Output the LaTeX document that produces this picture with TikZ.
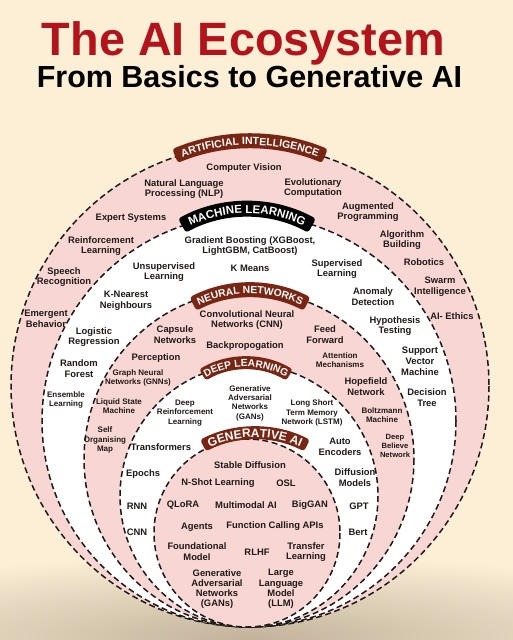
\documentclass[tikz,border=0pt]{standalone}
\usepackage{fontspec}
\setmainfont{Liberation Sans}
\usepackage{tikz}
\usetikzlibrary{calc, decorations.text}
\definecolor{Cream}   {HTML}{FCEFD6}
\definecolor{TitleRed}{HTML}{B3141B}
\definecolor{RingPink}{HTML}{F8D6D3}
\definecolor{Rust}    {HTML}{782613}
\definecolor{Ink}     {HTML}{1E1A18}
\definecolor{Shadow}  {HTML}{C3B39C}

\begin{document}
\begin{tikzpicture}[x=1pt, y=-1pt,
  ring/.style={draw=Ink, line width=1.5pt, dash pattern=on 6pt off 3.5pt},
  lbl/.style={font=\bfseries\fontsize{9.4}{10.8}\selectfont, align=center,
              text=Ink, inner sep=0pt},
  sml/.style={lbl, font=\bfseries\fontsize{8}{9.3}\selectfont},
  tall/.style={lbl, font=\bfseries\fontsize{9.4}{10.2}\selectfont},
  banner/.style={fill=#1, rounded corners=3pt}]
  % Page and soft shadow under the rings
  \fill[Cream] (0,0) rectangle (513,640);
  \useasboundingbox (0,0) rectangle (513,640);
  \begin{scope}
    \clip (0,0) rectangle (513,640);
    \shade[inner color=Shadow, outer color=Cream]
      (250,638) ellipse [x radius=500, y radius=84];
  \end{scope}
  % Title
  \node[anchor=base, font=\bfseries\fontsize{46.8}{52}\selectfont, text=TitleRed]
    (title) at (243.5,55) {The AI Ecosystem};
  \node[anchor=base, font=\bfseries\fontsize{30.5}{34}\selectfont, text=black]
    (subtitle) at (249.5,87) {From Basics to Generative AI};
  % Nested rings, all touching at the bottom
  \filldraw[ring, fill=RingPink] (250,386) ellipse [x radius=239, y radius=241];
  \filldraw[ring, fill=white]    (249,421) ellipse [x radius=207, y radius=206];
  \filldraw[ring, fill=RingPink] (249,459) ellipse [x radius=165, y radius=168];
  \filldraw[ring, fill=white]    (249,496) ellipse [x radius=129, y radius=131];
  \filldraw[ring, fill=RingPink] (247,533) ellipse [x radius=93,  y radius=94];
  % Banners (text runs on its own baseline arc)
  \coordinate (aihub) at (250,336);
  \fill[banner=Rust]
    ($(aihub)+(247.4:202.5)$) arc[start angle=247.4, end angle=292.6, radius=202.5]
    -- ($(aihub)+(292.6:187.5)$) arc[start angle=292.6, end angle=247.4, radius=187.5] -- cycle;
  \path[decorate, decoration={text along path, text align=center,
        text={|\bfseries\fontsize{10.5}{12}\selectfont\color{white}|ARTIFICIAL INTELLIGENCE}}]
    ($(aihub)+(247.4:191.2)$) arc[start angle=247.4, end angle=292.6, radius=191.2];
  \coordinate (mlhub) at (247,344);
  \fill[banner=black]
    ($(mlhub)+(241.2:143)$) arc[start angle=241.2, end angle=298.8, radius=143]
    -- ($(mlhub)+(298.8:127)$) arc[start angle=298.8, end angle=241.2, radius=127] -- cycle;
  \path[decorate, decoration={text along path, text align=center,
        text={|\bfseries\fontsize{11.5}{13}\selectfont\color{white}|MACHINE LEARNING}}]
    ($(mlhub)+(241.2:130.9)$) arc[start angle=241.2, end angle=298.8, radius=130.9];
  \coordinate (nnhub) at (250,413);
  \fill[banner=Rust]
    ($(nnhub)+(242.4:130.5)$) arc[start angle=242.4, end angle=297.6, radius=130.5]
    -- ($(nnhub)+(297.6:115.5)$) arc[start angle=297.6, end angle=242.4, radius=115.5] -- cycle;
  \path[decorate, decoration={text along path, text align=center,
        text={|\bfseries\fontsize{10.3}{12}\selectfont\color{white}|NEURAL NETWORKS}}]
    ($(nnhub)+(242.4:119.3)$) arc[start angle=242.4, end angle=297.6, radius=119.3];
  \coordinate (dlhub) at (246,448);
  \fill[banner=Rust]
    ($(dlhub)+(239.2:91.5)$) arc[start angle=239.2, end angle=300.8, radius=91.5]
    -- ($(dlhub)+(300.8:78.5)$) arc[start angle=300.8, end angle=239.2, radius=78.5] -- cycle;
  \path[decorate, decoration={text along path, text align=center,
        text={|\bfseries\fontsize{10.2}{12}\selectfont\color{white}|DEEP LEARNING}}]
    ($(dlhub)+(239.2:81.3)$) arc[start angle=239.2, end angle=300.8, radius=81.3];
  \coordinate (genhub) at (255,547);
  \fill[banner=Rust]
    ($(genhub)+(242.9:120.5)$) arc[start angle=242.9, end angle=297.1, radius=120.5]
    -- ($(genhub)+(297.1:107.5)$) arc[start angle=297.1, end angle=242.9, radius=107.5] -- cycle;
  \path[decorate, decoration={text along path, text align=center,
        text={|\bfseries\fontsize{12}{14}\selectfont\color{white}|GENERATIVE AI}}]
    ($(genhub)+(242.9:109.7)$) arc[start angle=242.9, end angle=297.1, radius=109.7];
  % Artificial intelligence ring
  \node[lbl] (vision)   at (244,168) {Computer Vision};
  \node[lbl] (nlp)      at (184,189) {Natural Language\\Processing (NLP)};
  \node[lbl] (evo)      at (313,188) {Evolutionary\\Computation};
  \node[lbl] (expert)   at (131,218) {Expert Systems};
  \node[lbl] (augprog)  at (368,212) {Augmented\\Programming};
  \node[lbl] (rl)       at (101,246) {Reinforcement\\Learning};
  \node[lbl] (algo)     at (402,240) {Algorithm\\Building};
  \node[lbl] (speech)   at (64,277)  {Speech\\Recognition};
  \node[lbl] (robotics) at (424,262) {Robotics};
  \node[lbl] (swarm)    at (440,287) {Swarm\\Intelligence};
  \node[lbl] (emergent) at (46,319)  {Emergent\\Behavior};
  \node[lbl] (ethics)   at (452,316) {AI- Ethics};
  % Machine learning ring
  \node[lbl] (boosting) at (250,246) {Gradient Boosting (XGBoost,\\LightGBM, CatBoost)};
  \node[lbl] (unsup)    at (164,272) {Unsupervised\\Learning};
  \node[lbl] (kmeans)   at (250,268) {K Means};
  \node[lbl] (sup)      at (337,269) {Supervised\\Learning};
  \node[lbl] (knn)      at (126,301) {K-Nearest\\Neighbours};
  \node[lbl] (anomaly)  at (373,297) {Anomaly\\Detection};
  \node[lbl] (logreg)   at (94,337)  {Logistic\\Regression};
  \node[lbl] (hypo)     at (395,326) {Hypothesis\\Testing};
  \node[lbl] (forest)   at (79,369)  {Random\\Forest};
  \node[lbl] (svm)      at (420,361) {Support\\Vector\\Machine};
  \node[sml] (ensemble) at (66,400)  {Ensemble\\Learning};
  \node[lbl] (dtree)    at (427,398) {Decision\\Tree};
  % Neural networks ring
  \node[lbl] (convnet)  at (247,320) {Convolutional Neural\\Networks (CNN)};
  \node[lbl] (capsule)  at (175,335) {Capsule\\Networks};
  \node[lbl] (feed)     at (325,335) {Feed\\Forward};
  \node[lbl] (backprop) at (245,346) {Backpropogation};
  \node[lbl] (percept)  at (156,358) {Perception};
  \node[sml] (attention) at (340,360) {Attention\\Mechanisms};
  \node[sml] (gnn)      at (138,378) {Graph Neural\\Networks (GNNs)};
  \node[lbl] (hopfield) at (366,387) {Hopefield\\Network};
  \node[sml] (liquid)   at (119,406) {Liquid State\\Machine};
  \node[sml] (boltz)    at (382,415) {Boltzmann\\Machine};
  \node[sml] (som)      at (105,440) {Self\\Organising\\Map};
  \node[sml, font=\bfseries\fontsize{7.6}{8.6}\selectfont]
             (dbn)      at (395,446) {Deep\\Believe\\Network};
  % Deep learning ring
  \node[sml] (dlgan)    at (250,403) {Generative\\Adversarial\\Networks\\(GANs)};
  \node[sml] (drl)      at (185,413) {Deep\\Reinforcement\\Learning};
  \node[sml] (lstm)     at (312,413) {Long Short\\Term Memory\\Network (LSTM)};
  \node[lbl] (transf)   at (161,447) {Transformers};
  \node[lbl] (autoenc)  at (340,447) {Auto\\Encoders};
  \node[lbl] (epochs)   at (143,474) {Epochs};
  \node[lbl] (diffmod)  at (355,478) {Diffusion\\Models};
  \node[lbl] (rnn)      at (137,506) {RNN};
  \node[lbl] (gpt)      at (359,506) {GPT};
  \node[lbl] (cnn)      at (137,532) {CNN};
  \node[lbl] (bert)     at (358,532) {Bert};
  % Generative AI core
  \node[lbl] (stable)   at (250,465) {Stable Diffusion};
  \node[lbl] (nshot)    at (218,483) {N-Shot Learning};
  \node[lbl] (osl)      at (286,483) {OSL};
  \node[lbl] (qlora)    at (183,505) {QLoRA};
  \node[lbl] (multimod) at (246,505) {Multimodal AI};
  \node[lbl] (biggan)   at (310,505) {BigGAN};
  \node[lbl] (agents)   at (197,527) {Agents};
  \node[lbl] (funcall)  at (275,526) {Function Calling APIs};
  \node[lbl] (found)    at (197,552) {Foundational\\Model};
  \node[lbl] (rlhf)     at (257,552) {RLHF};
  \node[lbl] (transfer) at (306,552) {Transfer\\Learning};
  \node[tall] (gangen)  at (217,589) {Generative\\Adversarial\\Networks\\(GANs)};
  \node[tall] (llm)     at (281,589) {Large\\Language\\Model\\(LLM)};
\end{tikzpicture}
\end{document}
